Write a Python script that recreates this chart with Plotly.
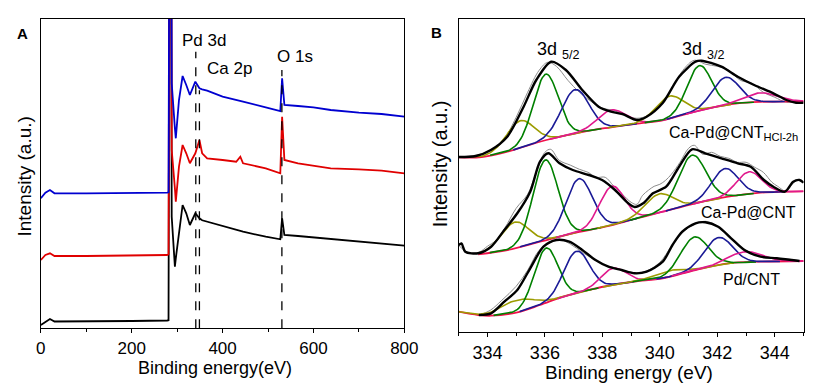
import numpy as np
import plotly.graph_objects as go

# ---------------- Panel A: survey spectra (intensity in a.u.) ----------------
survey_energy = [0, 10, 20, 30, 100, 200, 278, 281, 284, 286, 288, 295, 297, 304, 312, 320, 328,
                 340, 349, 355, 366, 400, 430, 439, 445, 495, 527, 531, 536, 566, 600, 638, 700, 750, 800]
survey_pd_cnt = [3.3, 6.3, 9.3, 6.8, 6.8, 7.3, 7.8, 8.0, 600, 600, 111.6, 61.6, 70, 95, 123.3, 115, 103.3,
                 115, 110, 108, 106.6, 101.6, 98, 97, 96.6, 91.6, 89, 110, 93.3, 92.3, 91, 89, 86.6, 85, 82.6]
survey_ca_pd_cnt = [68.3, 73.3, 75, 72.3, 72.3, 72.6, 73.3, 74, 600, 600, 178.3, 140, 126.6, 161.6, 183.3, 175, 165,
                    175, 188.3, 175, 170, 168.3, 166.6, 171.6, 165, 160, 155, 211.6, 168.3, 165, 162.6, 160, 159, 157.6, 155]
survey_ca_pd_cnt_hcl = [130, 135.6, 138.3, 135, 135, 135, 135.6, 136, 600, 600, 245, 200, 190, 228.3, 252.3, 243.3, 233.3,
                        246.6, 240, 239, 237.6, 231.6, 228, 227, 226.6, 221, 217.3, 250, 223.3, 222.3, 221, 218.3, 215.6, 214.3, 211.6]

marker_energy = [341, 349, 530.5]
marker_top = [276.6, 238, 258.3]
marker_labels = ["Pd 3d", "Ca 2p", "O 1s"]
marker_label_x = [358, 415.7, 559]
marker_label_y = [287.6, 259.3, 271.6]

# ---------------- Panel B: Pd 3d high resolution ----------------
# Ca-Pd@CNT(HCl-2h)  (top)
top_bg_e = [333.0, 333.8, 334.69, 336.05, 337.41, 338.3, 339.3, 340.1, 341.0, 341.7, 342.7, 343.5, 345.0]
top_bg_y = [175, 175.3, 180.6, 192.3, 201, 205, 209, 212, 219, 224, 229, 230.5, 231]
top_env_e = [333.0, 333.6, 334.12, 334.69, 335.26, 335.7, 336.22, 336.73, 337.3, 337.87, 338.3, 338.7, 339.2,
             339.54, 340.1, 340.67, 341.24, 341.45, 342.14, 342.71, 343.28, 343.95, 344.4, 344.74, 345.0]
top_env_y = [175.3, 176.3, 182.3, 195.6, 225.6, 252.3, 270.6, 262.3, 242.3, 225.6, 220.6, 218.3, 212.3,
             215.6, 229.3, 255.6, 270.6, 271.6, 265.6, 255.6, 247.3, 239, 232.3, 229.6, 229.6]
top_raw_e = [333.0, 334.0, 334.5, 335.0, 335.4, 335.8, 336.1, 336.4, 336.8, 337.2, 337.6, 338.0, 338.4, 338.8,
             339.2, 339.6, 340.0, 340.4, 340.8, 341.2, 341.6, 342.0, 342.4, 342.8, 343.2, 343.6, 344.0, 344.4, 344.8, 345.0]
top_raw_y = [175, 180, 190, 215, 240, 262, 270, 266, 252, 240, 231, 224, 222, 217,
             214, 217, 226, 243, 262, 272, 268, 266, 262, 252, 249, 240, 235, 230, 231, 230]
top_peak_center = [335.14, 336.03, 337.05, 338.32, 340.33, 341.37, 342.29, 343.5]
top_peak_height = [27, 66, 44, 17.3, 22.3, 45, 28, 9]
top_peak_fwhm = [1.13, 1.02, 1.13, 1.13, 1.13, 1.0, 1.08, 1.36]

# Ca-Pd@CNT (middle)
mid_bg_e = [333.68, 334.7, 335.83, 336.97, 338.1, 339.12, 340.1, 341.24, 342.37, 343.5, 344.3, 345.0]
mid_bg_y = [78, 82.3, 90.6, 99, 105.6, 113.3, 120.6, 129, 135.6, 139.6, 140.6, 141]
mid_env_e = [333.0, 333.1, 333.23, 333.68, 334.13, 334.59, 335.04, 335.49, 335.83, 336.12, 336.51, 336.97, 337.53,
             337.99, 338.44, 338.9, 339.12, 339.42, 339.76, 340.22, 340.67, 341.12, 341.58, 342.14, 342.71, 343.16,
             343.62, 343.95, 344.35, 344.64, 344.86, 345.0]
mid_env_y = [87.3, 88.8, 80.6, 79, 85.6, 102.3, 119, 140.6, 170.6, 179, 169, 162.3, 157.3,
             152.3, 142.3, 129, 125.3, 129, 139, 145.6, 165.6, 183, 179, 174, 169, 165.6,
             152.3, 145.6, 140.6, 150.6, 152.3, 149.6]
mid_raw_e = [333.0, 333.3, 333.7, 334.0, 334.3, 334.6, 335.0, 335.4, 335.7, 336.0, 336.2, 336.5, 336.9, 337.2,
             337.5, 337.8, 338.1, 338.4, 338.7, 339.0, 339.2, 339.4, 339.6, 339.8, 340.0, 340.2, 340.4, 340.7,
             341.0, 341.2, 341.5, 341.8, 342.1, 342.4, 342.7, 343.0, 343.3, 343.6, 343.9, 344.1, 344.4, 344.6, 344.8, 345.0]
mid_raw_y = [87, 80, 80, 86, 92, 104, 124, 138, 160, 180, 183, 172, 167, 163,
             160, 155, 155, 146, 138, 130, 128, 137, 142, 146, 148, 152, 158, 170,
             184, 187, 178, 180, 176, 174, 170, 170, 165, 160, 150, 146, 141, 148, 152, 150]
mid_peak_center = [334.95, 336.02, 337.19, 338.33, 339.97, 341.12, 342.26, 343.1]
mid_peak_height = [26, 80.3, 53.3, 38.7, 18.7, 49, 28.7, 22.3]
mid_peak_fwhm = [1.13, 1.02, 1.08, 1.02, 1.13, 1.13, 1.08, 1.02]

# Pd/CNT (bottom)
bot_bg_e = [333.0, 333.68, 334.13, 335.04, 335.83, 336.63, 337.53, 338.33, 339.12, 340.1, 341.24, 342.37, 343.5, 345.0]
bot_bg_y = [20.6, 17.3, 16.6, 20, 27.3, 35.6, 42.3, 47.3, 50.8, 54, 62.3, 69, 70.6, 71.3]
bot_env_e = [333.7, 334.13, 334.59, 335.04, 335.49, 335.95, 336.4, 336.85, 337.3, 337.76, 338.21, 338.67, 339.12,
             339.54, 340.1, 340.44, 340.78, 341.24, 341.58, 342.03, 342.48, 342.94, 343.5, 344.07, 344.86]
bot_env_y = [17.3, 19, 30.6, 42.3, 64, 85.6, 92.3, 90.6, 82.3, 72.3, 65.6, 62.3, 59,
             60.6, 70.6, 87.3, 100.6, 109, 110, 105.6, 94, 82.3, 75.6, 74, 71.3]
bot_raw_e = [333.7, 334.1, 334.5, 335.0, 335.4, 335.8, 336.2, 336.5, 336.9, 337.3, 337.7, 338.1, 338.5, 339.0,
             339.5, 340.0, 340.4, 340.8, 341.2, 341.6, 342.0, 342.4, 342.8, 343.2, 343.6, 344.0, 344.5, 345.0]
bot_raw_y = [17, 22, 32, 46, 62, 82, 90, 93, 88, 80, 73, 67, 64, 60,
             61, 70, 86, 100, 108, 111, 106, 96, 86, 79, 76, 74, 73, 71]
bot_peak_center = [335.04, 336.04, 337.1, 338.38, 340.3, 341.2, 342.03, 342.99]
bot_peak_height = [12, 54.7, 42, 16.7, 6, 33.3, 27.7, 10.7]
bot_peak_fwhm = [1.36, 0.96, 1.04, 1.02, 1.2, 1.13, 1.13, 1.36]

peak_colors = ["#9C9C00", "#008000", "#1A1A96", "#E0198C"] * 2
FONT = "Liberation Sans, Arial, sans-serif"

fig = go.Figure()

# Panel A traces
for vals, col in [(survey_pd_cnt, "#000000"), (survey_ca_pd_cnt, "#E00000"), (survey_ca_pd_cnt_hcl, "#0000D0")]:
    fig.add_trace(go.Scatter(x=survey_energy, y=vals, mode="lines", line=dict(color=col, width=1.8),
                             xaxis="x", yaxis="y", showlegend=False, hoverinfo="skip"))
for e, t in zip(marker_energy, marker_top):
    fig.add_trace(go.Scatter(x=[e, e], y=[0, t], mode="lines", line=dict(color="#000000", width=1.3, dash="dash"),
                             xaxis="x", yaxis="y", showlegend=False, hoverinfo="skip"))

# Panel B traces
spectra = [
    (top_bg_e, top_bg_y, top_env_e, top_env_y, top_raw_e, top_raw_y, top_peak_center, top_peak_height, top_peak_fwhm),
    (mid_bg_e, mid_bg_y, mid_env_e, mid_env_y, mid_raw_e, mid_raw_y, mid_peak_center, mid_peak_height, mid_peak_fwhm),
    (bot_bg_e, bot_bg_y, bot_env_e, bot_env_y, bot_raw_e, bot_raw_y, bot_peak_center, bot_peak_height, bot_peak_fwhm),
]
for bg_e, bg_y, env_e, env_y, raw_e, raw_y, pc, ph, pw in spectra:
    fig.add_trace(go.Scatter(x=raw_e, y=raw_y, mode="lines", line=dict(color="#8C8C8C", width=1, shape="spline"),
                             xaxis="x2", yaxis="y2", showlegend=False, hoverinfo="skip"))
    fig.add_trace(go.Scatter(x=bg_e, y=bg_y, mode="lines", line=dict(color="#F0104A", width=1.8, shape="spline"),
                             xaxis="x2", yaxis="y2", showlegend=False, hoverinfo="skip"))
    for c, h, w, col in zip(pc, ph, pw, peak_colors):
        xs = np.linspace(max(c - 1.9 * w, min(bg_e)), min(c + 1.9 * w, 345), 80)
        ys = np.interp(xs, bg_e, bg_y) + h * np.exp(-4 * np.log(2) * (xs - c) ** 2 / w ** 2)
        fig.add_trace(go.Scatter(x=xs, y=ys, mode="lines", line=dict(color=col, width=1.6),
                                 xaxis="x2", yaxis="y2", showlegend=False, hoverinfo="skip"))
    fig.add_trace(go.Scatter(x=env_e, y=env_y, mode="lines", line=dict(color="#000000", width=2.4, shape="spline", smoothing=0.8),
                             xaxis="x2", yaxis="y2", showlegend=False, hoverinfo="skip"))

axis_common = dict(showline=True, linecolor="#000000", linewidth=1.2, mirror=True, showgrid=False, zeroline=False,
                   ticks="outside", ticklen=4, tickwidth=1, tickcolor="#000000")
fig.update_layout(
    width=829, height=389, margin=dict(l=0, r=0, t=0, b=0), plot_bgcolor="white", paper_bgcolor="white",
    xaxis=dict(domain=[0.04427, 0.49300], range=[0, 800], anchor="y", tick0=0, dtick=200,
               minor=dict(ticks="outside", ticklen=3, dtick=100, tickcolor="#000000"),
               tickfont=dict(family=FONT, size=17, color="#000000"), **axis_common),
    yaxis=dict(domain=[0.15604, 0.95116], range=[0, 309.3], anchor="x", showticklabels=False,
               showline=True, linecolor="#000000", linewidth=1.2, mirror=True, showgrid=False, zeroline=False, ticks=""),
    xaxis2=dict(domain=[0.56007, 0.98589], range=[333, 345], anchor="y2", tick0=334, dtick=2,
                minor=dict(ticks="outside", ticklen=3, dtick=1, tickcolor="#000000"),
                tickfont=dict(family=FONT, size=18, color="#000000"), **axis_common),
    yaxis2=dict(domain=[0.14576, 0.95116], range=[0, 313.3], anchor="x2", showticklabels=False,
                showline=True, linecolor="#000000", linewidth=1.2, mirror=True, showgrid=False, zeroline=False, ticks=""),
)

C = dict(xanchor="center", yanchor="middle", showarrow=False)
ann = []
for lab, lx, ly in zip(marker_labels, marker_label_x, marker_label_y):
    ann.append(dict(text=lab, x=lx, y=ly, xref="x", yref="y",
                    font=dict(family=FONT, size=17, color="#000000"), **C))
ann += [
    dict(text="<b>A</b>", x=18 / 829, y=1 - 33 / 389, xref="paper", yref="paper",
         font=dict(family=FONT, size=15, color="#000000"), **C),
    dict(text="<b>B</b>", x=442 / 829, y=1 - 32 / 389, xref="paper", yref="paper",
         font=dict(family=FONT, size=15, color="#000000"), **C),
    dict(text="Binding energy(eV)", x=215 / 829, y=1 - 368 / 389, xref="paper", yref="paper",
         font=dict(family=FONT, size=18, color="#000000"), **C),
    dict(text="Binding energy (eV)", x=638.5 / 829, y=1 - 372 / 389, xref="paper", yref="paper",
         font=dict(family=FONT, size=19, color="#000000"), **C),
    dict(text="Intensity (a.u.)", x=20 / 829, y=1 - 177 / 389, xref="paper", yref="paper",
         textangle=-90, font=dict(family=FONT, size=19, color="#000000"), **C),
    dict(text="Intensity (a.u.)", x=445.5 / 829, y=1 - 164 / 389, xref="paper", yref="paper",
         textangle=-90, font=dict(family=FONT, size=20, color="#000000"), **C),
    dict(text="3d <sub>5/2</sub>", x=336.49, y=282, xref="x2", yref="y2",
         font=dict(family=FONT, size=18, color="#000000"), **C),
    dict(text="3d <sub>3/2</sub>", x=341.53, y=282, xref="x2", yref="y2",
         font=dict(family=FONT, size=18, color="#000000"), **C),
    dict(text="Ca-Pd@CNT<sub>HCl-2h</sub>", x=342.55, y=199, xref="x2", yref="y2",
         font=dict(family=FONT, size=16, color="#000000"), **C),
    dict(text="Ca-Pd@CNT", x=343.1, y=119.3, xref="x2", yref="y2",
         font=dict(family=FONT, size=16, color="#000000"), **C),
    dict(text="Pd/CNT", x=343.2, y=52.3, xref="x2", yref="y2",
         font=dict(family=FONT, size=16, color="#000000"), **C),
]
fig.update_layout(annotations=ann)
fig.write_html("out.html", config={"displayModeBar": False},
               post_script="document.body.style.margin='0';")
